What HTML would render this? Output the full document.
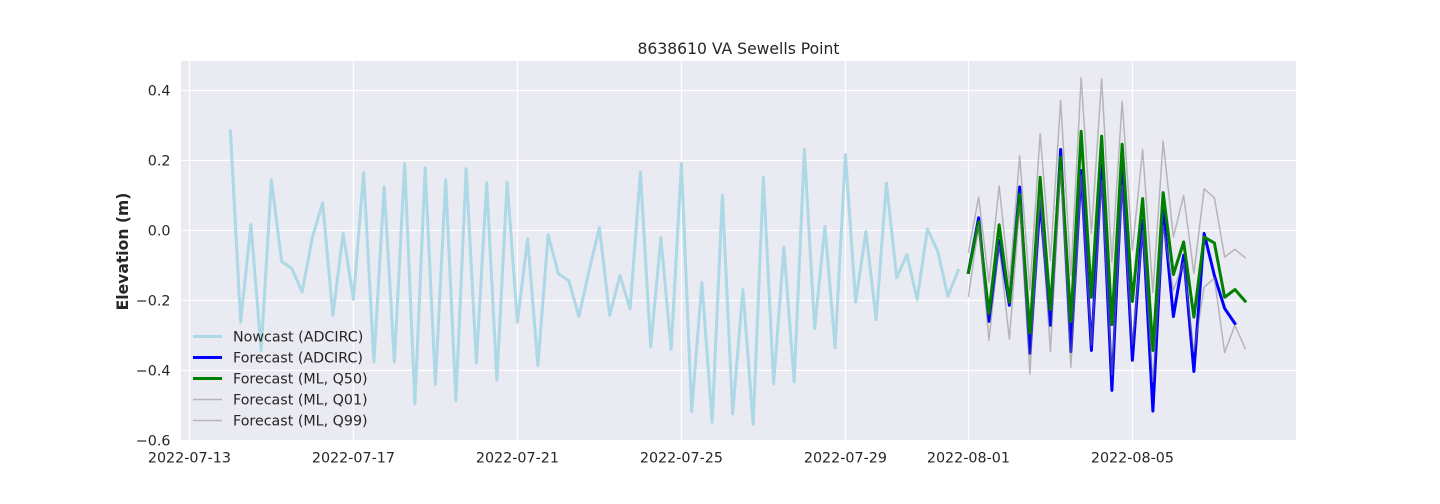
<!DOCTYPE html>
<html lang="en">
<head>
<meta charset="utf-8">
<title>8638610 VA Sewells Point</title>
<style>
html,body{margin:0;padding:0;background:#fff;width:1440px;height:504px;overflow:hidden}
svg{display:block}
text{font-family:"DejaVu Sans","Liberation Sans",sans-serif;fill:#262626}
</style>
</head>
<body>
<svg id="chart" xmlns="http://www.w3.org/2000/svg" width="1440" height="504" viewBox="0 0 1440 504">
  <rect x="0" y="0" width="1440" height="504" fill="#ffffff"/>
  <rect x="181" y="61" width="1115" height="379" fill="#eaeaf2"/>
  <g id="grid"></g>
  <g id="series"></g>
  <g id="ticks"></g>
  <text x="738.5" y="54" text-anchor="middle" font-size="15.6">8638610 VA Sewells Point</text>
  <text x="0" y="0" transform="translate(128 251.5) rotate(-90)" text-anchor="middle" font-size="15.6" font-weight="bold">Elevation (m)</text>
  <g>
    <g>
      <line x1="193" x2="222" y1="336.5" y2="336.5" stroke="#add8e6" stroke-width="3"/>
      <text x="233" y="341.5" font-size="14.25">Nowcast (ADCIRC)</text>
    </g>
    <g>
      <line x1="193" x2="222" y1="357.5" y2="357.5" stroke="#0000ff" stroke-width="3"/>
      <text x="233" y="362.5" font-size="14.25">Forecast (ADCIRC)</text>
    </g>
    <g>
      <line x1="193" x2="222" y1="378.5" y2="378.5" stroke="#008000" stroke-width="3"/>
      <text x="233" y="383.5" font-size="14.25">Forecast (ML, Q50)</text>
    </g>
    <g>
      <line x1="193" x2="222" y1="399.5" y2="399.5" stroke="#808080" stroke-opacity="0.5" stroke-width="1.5"/>
      <text x="233" y="404.5" font-size="14.25">Forecast (ML, Q01)</text>
    </g>
    <g>
      <line x1="193" x2="222" y1="420.5" y2="420.5" stroke="#808080" stroke-opacity="0.5" stroke-width="1.5"/>
      <text x="233" y="425.5" font-size="14.25">Forecast (ML, Q99)</text>
    </g>
  </g>
</svg>
<script>
var xTickDates = ['2022-07-13','2022-07-17','2022-07-21','2022-07-25','2022-07-29','2022-08-01','2022-08-05'];
var yTickValues = [0.4,0.2,0,-0.2,-0.4,-0.6];
var nowcastStart = '2022-07-14';
var forecastStart = '2022-08-01';
var stepHours = 6;
var nowcast = [0.284,-0.262,0.017,-0.343,0.145,-0.089,-0.109,-0.176,-0.019,0.079,-0.243,-0.008,-0.197,0.165,-0.376,0.124,-0.376,0.191,-0.495,0.179,-0.44,0.145,-0.486,0.176,-0.379,0.136,-0.427,0.138,-0.262,-0.024,-0.386,-0.012,-0.124,-0.143,-0.246,-0.114,0.008,-0.243,-0.129,-0.224,0.167,-0.333,-0.021,-0.34,0.191,-0.517,-0.149,-0.548,0.1,-0.524,-0.169,-0.554,0.152,-0.438,-0.048,-0.433,0.231,-0.281,0.011,-0.335,0.217,-0.205,-0.003,-0.255,0.135,-0.135,-0.069,-0.197,0.004,-0.059,-0.188,-0.114];
var forecastAdcirc = [-0.12,0.036,-0.26,-0.029,-0.214,0.124,-0.351,0.086,-0.271,0.231,-0.346,0.171,-0.343,0.186,-0.457,0.171,-0.371,0.029,-0.516,0.057,-0.246,-0.071,-0.403,-0.009,-0.129,-0.223,-0.266];
var forecastQ50 = [-0.12,0.024,-0.237,0.016,-0.205,0.103,-0.293,0.152,-0.226,0.209,-0.26,0.283,-0.191,0.269,-0.269,0.246,-0.203,0.091,-0.343,0.108,-0.126,-0.033,-0.248,-0.019,-0.036,-0.191,-0.169,-0.202];
var forecastQ01 = [-0.189,0.014,-0.314,-0.043,-0.311,0.071,-0.411,0.1,-0.346,0.171,-0.391,0.157,-0.327,0.143,-0.413,0.129,-0.327,0,-0.433,0.014,-0.171,-0.091,-0.347,-0.162,-0.137,-0.349,-0.271,-0.337];
var forecastQ99 = [-0.063,0.095,-0.149,0.127,-0.151,0.213,-0.171,0.276,-0.086,0.371,-0.129,0.436,-0.009,0.433,-0.091,0.369,-0.057,0.231,-0.177,0.255,-0.019,0.1,-0.123,0.119,0.093,-0.076,-0.054,-0.078];

var NS = 'http://www.w3.org/2000/svg';
var DAY_MS = 86400000;
var originMs = Date.parse('2022-08-01T00:00:00Z');
function xScale(ms){ return 968.4 + 41 * (ms - originMs) / DAY_MS; }
function yScale(v){ return 230.4 - 350 * v; }
function dateMs(s){ return Date.parse(s + 'T00:00:00Z'); }

var gridG = document.getElementById('grid');
var ticksG = document.getElementById('ticks');
var seriesG = document.getElementById('series');

xTickDates.forEach(function(d){
  var x = xScale(dateMs(d));
  var line = document.createElementNS(NS, 'line');
  
  
  line.setAttribute('x1', x); line.setAttribute('x2', x);
  line.setAttribute('y1', 61); line.setAttribute('y2', 440);
  line.setAttribute('stroke', '#ffffff'); line.setAttribute('stroke-width', 1.1);
  gridG.appendChild(line);
  var t = document.createElementNS(NS, 'text');
  
  
  t.setAttribute('x', x); t.setAttribute('y', 462.5);
  t.setAttribute('text-anchor', 'middle'); t.setAttribute('font-size', 14.3);
  t.textContent = d;
  ticksG.appendChild(t);
});

yTickValues.forEach(function(v){
  var y = yScale(v);
  if (v > -0.6) {
    var line = document.createElementNS(NS, 'line');
    
    
    line.setAttribute('x1', 181); line.setAttribute('x2', 1296);
    line.setAttribute('y1', y); line.setAttribute('y2', y);
    line.setAttribute('stroke', '#ffffff'); line.setAttribute('stroke-width', 1.1);
    gridG.appendChild(line);
  }
  var t = document.createElementNS(NS, 'text');
  
  
  t.setAttribute('x', 170.5); t.setAttribute('y', y + 5);
  t.setAttribute('text-anchor', 'end'); t.setAttribute('font-size', 14.3);
  t.textContent = (v < 0 ? '\u2212' : '') + Math.abs(v).toFixed(1);
  ticksG.appendChild(t);
});

function points(values, start){
  var s = dateMs(start);
  return values.map(function(v, i){
    return xScale(s + i * stepHours * 3600000).toFixed(2) + ',' + yScale(v).toFixed(2);
  }).join(' ');
}
function drawLine(name, values, start, color, width, opacity){
  var p = document.createElementNS(NS, 'polyline');
  
  
  p.setAttribute('points', points(values, start));
  p.setAttribute('fill', 'none');
  p.setAttribute('stroke', color);
  p.setAttribute('stroke-width', width);
  p.setAttribute('stroke-opacity', opacity);
  p.setAttribute('stroke-linejoin', 'round');
  p.setAttribute('stroke-linecap', 'square');
  seriesG.appendChild(p);
}
drawLine('nowcast-adcirc-line', nowcast, nowcastStart, '#add8e6', 3, 1);
drawLine('forecast-adcirc-line', forecastAdcirc, forecastStart, '#0000ff', 3, 1);
drawLine('forecast-ml-q50-line', forecastQ50, forecastStart, '#008000', 3, 1);
drawLine('forecast-ml-q01-line', forecastQ01, forecastStart, '#808080', 1.5, 0.5);
drawLine('forecast-ml-q99-line', forecastQ99, forecastStart, '#808080', 1.5, 0.5);
</script>
</body>
</html>
